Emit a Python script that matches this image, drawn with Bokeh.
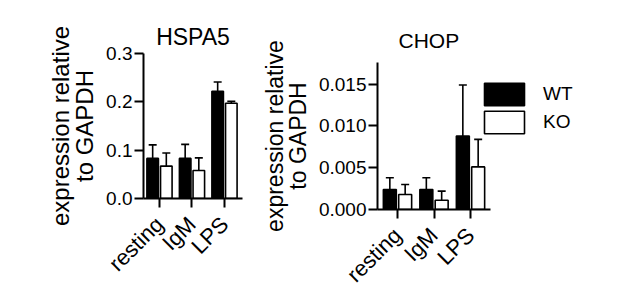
import math
from bokeh.plotting import figure
from bokeh.layouts import row, column
from bokeh.models import (ColumnDataSource, Whisker, TeeHead, FixedTicker,
                          NumeralTickFormatter, Legend, LegendItem, Range1d)
from bokeh.embed import file_html
from bokeh.resources import INLINE

categories = ["resting", "IgM", "LPS"]
groups = ["WT", "KO"]

hspa5_wt = [0.083, 0.083, 0.222]
hspa5_wt_err = [0.028, 0.029, 0.019]
hspa5_ko = [0.067, 0.058, 0.197]
hspa5_ko_err = [0.027, 0.026, 0.004]
hspa5_ticks = [0.0, 0.1, 0.2, 0.3]

chop_wt = [0.0024, 0.0024, 0.0088]
chop_wt_err = [0.0014, 0.0014, 0.0061]
chop_ko = [0.0018, 0.0011, 0.0051]
chop_ko_err = [0.0012, 0.0011, 0.0033]
chop_ticks = [0.0, 0.005, 0.010, 0.015]

FONT = "Liberation Sans"
OFFSET = 0.21
BAR_W = 0.355


def panel(title, wt, wt_err, ko, ko_err, ticks, ymax, fmt,
          fw, fh, bl, bt, bb, br, xstart, xaxis_end, px_per_unit, title_size,
          title_align, title_offset, title_standoff, label_size,
          with_legend=False):
    xend = xstart + fw / px_per_unit
    p = figure(frame_width=fw, frame_height=fh, output_backend="svg",
               toolbar_location=None, min_border_left=bl, min_border_top=bt,
               min_border_bottom=bb, min_border_right=br,
               x_range=Range1d(xstart, xend), y_range=Range1d(0, ymax))
    p.outline_line_color = None
    p.grid.visible = False
    p.background_fill_color = "white"
    p.border_fill_color = "white"
    p.title.text = title
    p.title.align = title_align
    p.title.offset = title_offset
    p.title.standoff = title_standoff
    p.title.text_font = FONT
    p.title.text_font_size = title_size
    p.title.text_font_style = "normal"
    p.title.text_color = "black"

    pos = list(range(1, len(categories) + 1))
    xs_wt = [x - OFFSET for x in pos]
    xs_ko = [x + OFFSET for x in pos]
    src_wt = ColumnDataSource(dict(x=xs_wt, top=wt,
                                   upper=[v + e for v, e in zip(wt, wt_err)],
                                   lower=[v - e for v, e in zip(wt, wt_err)]))
    src_ko = ColumnDataSource(dict(x=xs_ko, top=ko,
                                   upper=[v + e for v, e in zip(ko, ko_err)],
                                   lower=[max(v - e, 0) for v, e in zip(ko, ko_err)]))
    r_wt = p.vbar(x="x", top="top", width=BAR_W, source=src_wt,
                  fill_color="black", line_color="black", line_width=1.6)
    r_ko = p.vbar(x="x", top="top", width=BAR_W, source=src_ko,
                  fill_color="white", line_color="black", line_width=1.6)
    for src in (src_wt, src_ko):
        w = Whisker(source=src, base="x", upper="upper", lower="lower",
                    line_color="black", line_width=1.6,
                    upper_head=TeeHead(size=8, line_color="black", line_width=1.6),
                    lower_head=TeeHead(size=8, line_color="black", line_width=1.6))
        p.add_layout(w)

    for ax in (p.xaxis[0], p.yaxis[0]):
        ax.axis_line_width = 2
        ax.axis_line_color = "black"
        ax.major_tick_line_width = 2
        ax.major_tick_line_color = "black"
        ax.major_tick_out = 9
        ax.major_tick_in = 0
        ax.minor_tick_line_color = None
        ax.major_label_text_font = FONT
        ax.major_label_text_color = "black"

    p.yaxis.ticker = FixedTicker(ticks=ticks)
    p.yaxis.formatter = NumeralTickFormatter(format=fmt)
    p.yaxis.major_label_text_font_size = "19px"
    p.yaxis.major_label_standoff = 2
    p.yaxis.axis_label = "expression relative\nto GAPDH"
    p.yaxis.axis_label_text_font = FONT
    p.yaxis.axis_label_text_font_size = label_size
    p.yaxis.axis_label_text_font_style = "normal"
    p.yaxis.axis_label_text_color = "black"
    p.yaxis.axis_label_text_line_height = 0.9
    p.yaxis.axis_label_standoff = 5

    p.xaxis.ticker = FixedTicker(ticks=pos)
    p.xaxis.bounds = (xstart, xaxis_end)
    p.xaxis.major_label_overrides = {x: c for x, c in zip(pos, categories)}
    p.xaxis.major_label_orientation = math.pi / 4
    p.xaxis.major_label_text_font_size = "22px"
    p.xaxis.major_label_standoff = 13

    if with_legend:
        # area legend glyphs are inset by 10%; negative spacing joins the two
        leg = Legend(items=[LegendItem(label=groups[0], renderers=[r_wt]),
                            LegendItem(label=groups[1], renderers=[r_ko])],
                     location=(102, 73), glyph_width=50, glyph_height=28,
                     label_height=28, spacing=-6, padding=0, margin=0,
                     label_standoff=14, label_text_font=FONT,
                     label_text_color="black",
                     label_text_font_size="19px", border_line_color=None,
                     background_fill_alpha=0)
        p.add_layout(leg, "center")
    return p


p1 = panel("HSPA5", hspa5_wt, hspa5_wt_err, hspa5_ko, hspa5_ko_err,
           hspa5_ticks, 0.3, "0.0", 99, 145, 143, 53, 97, 16,
           0.508, 3.554, 32.5, "23px", "center", 0, 7, "24px")
p2 = panel("CHOP", chop_wt, chop_wt_err, chop_ko, chop_ko_err,
           chop_ticks, 0.0176, "0.000", 228, 147, 119, 62, 86, 12,
           0.452, 3.548, 36.5, "21px", "left", 21, 21, "23px", with_legend=True)

layout = row(column(p1), column(p2), spacing=0)
open("out.html", "w").write(file_html(layout, INLINE))
